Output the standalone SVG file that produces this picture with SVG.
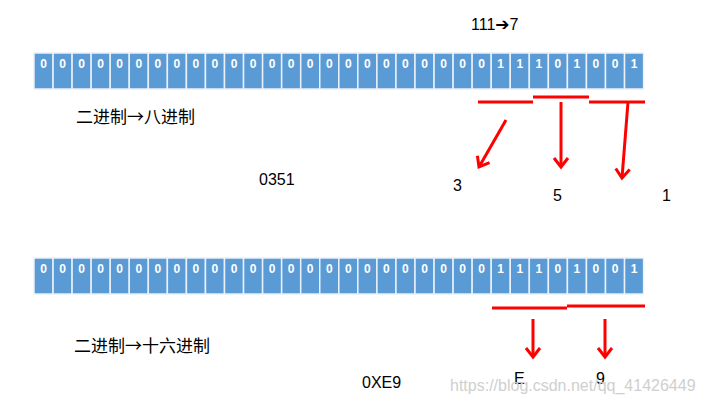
<svg xmlns="http://www.w3.org/2000/svg" width="703" height="406" viewBox="0 0 703 406">
<defs>
<style>
.cell rect{fill:#5B9BD5;stroke:#EAF1FA;stroke-width:1.5}
.cell text{fill:#fff;font-family:"Liberation Sans",Arial,sans-serif;font-size:12px;font-weight:bold;text-anchor:middle}
.lbl{font-family:"Liberation Sans","DejaVu Sans",Arial,sans-serif;font-size:16px;fill:#000}
.cjk{font-family:"Noto Sans CJK SC","Liberation Sans",sans-serif;font-size:17px;fill:#000}
.red{stroke:#FF0000;stroke-width:3;fill:none}
.arr{stroke:#FF0000;stroke-width:3;fill:none;marker-end:url(#ah)}
.wm{font-family:"Liberation Sans",Arial,sans-serif;font-size:16px;fill:#cfcfcf}
</style>
<marker id="ah" markerUnits="userSpaceOnUse" orient="auto" markerWidth="20" markerHeight="20" refX="0" refY="0" viewBox="-12 -10 14 20" overflow="visible">
<path d="M-9,-7 L0,0 L-9,7" stroke="#FF0000" stroke-width="3" fill="none" stroke-linejoin="miter"/>
</marker>
</defs>
<rect width="703" height="406" fill="#fff"/>

<g id="row-octal" class="cell">
<g transform="translate(34,53)"><rect width="19.05" height="36"/><text x="9.5" y="15">0</text></g>
<g transform="translate(53.05,53)"><rect width="19.05" height="36"/><text x="9.5" y="15">0</text></g>
<g transform="translate(72.1,53)"><rect width="19.05" height="36"/><text x="9.5" y="15">0</text></g>
<g transform="translate(91.15,53)"><rect width="19.05" height="36"/><text x="9.5" y="15">0</text></g>
<g transform="translate(110.2,53)"><rect width="19.05" height="36"/><text x="9.5" y="15">0</text></g>
<g transform="translate(129.25,53)"><rect width="19.05" height="36"/><text x="9.5" y="15">0</text></g>
<g transform="translate(148.3,53)"><rect width="19.05" height="36"/><text x="9.5" y="15">0</text></g>
<g transform="translate(167.35,53)"><rect width="19.05" height="36"/><text x="9.5" y="15">0</text></g>
<g transform="translate(186.4,53)"><rect width="19.05" height="36"/><text x="9.5" y="15">0</text></g>
<g transform="translate(205.45,53)"><rect width="19.05" height="36"/><text x="9.5" y="15">0</text></g>
<g transform="translate(224.5,53)"><rect width="19.05" height="36"/><text x="9.5" y="15">0</text></g>
<g transform="translate(243.55,53)"><rect width="19.05" height="36"/><text x="9.5" y="15">0</text></g>
<g transform="translate(262.6,53)"><rect width="19.05" height="36"/><text x="9.5" y="15">0</text></g>
<g transform="translate(281.65,53)"><rect width="19.05" height="36"/><text x="9.5" y="15">0</text></g>
<g transform="translate(300.7,53)"><rect width="19.05" height="36"/><text x="9.5" y="15">0</text></g>
<g transform="translate(319.75,53)"><rect width="19.05" height="36"/><text x="9.5" y="15">0</text></g>
<g transform="translate(338.8,53)"><rect width="19.05" height="36"/><text x="9.5" y="15">0</text></g>
<g transform="translate(357.85,53)"><rect width="19.05" height="36"/><text x="9.5" y="15">0</text></g>
<g transform="translate(376.9,53)"><rect width="19.05" height="36"/><text x="9.5" y="15">0</text></g>
<g transform="translate(395.95,53)"><rect width="19.05" height="36"/><text x="9.5" y="15">0</text></g>
<g transform="translate(415,53)"><rect width="19.05" height="36"/><text x="9.5" y="15">0</text></g>
<g transform="translate(434.05,53)"><rect width="19.05" height="36"/><text x="9.5" y="15">0</text></g>
<g transform="translate(453.1,53)"><rect width="19.05" height="36"/><text x="9.5" y="15">0</text></g>
<g transform="translate(472.15,53)"><rect width="19.05" height="36"/><text x="9.5" y="15">0</text></g>
<g transform="translate(491.2,53)"><rect width="19.05" height="36"/><text x="9.5" y="15">1</text></g>
<g transform="translate(510.25,53)"><rect width="19.05" height="36"/><text x="9.5" y="15">1</text></g>
<g transform="translate(529.3,53)"><rect width="19.05" height="36"/><text x="9.5" y="15">1</text></g>
<g transform="translate(548.35,53)"><rect width="19.05" height="36"/><text x="9.5" y="15">0</text></g>
<g transform="translate(567.4,53)"><rect width="19.05" height="36"/><text x="9.5" y="15">1</text></g>
<g transform="translate(586.45,53)"><rect width="19.05" height="36"/><text x="9.5" y="15">0</text></g>
<g transform="translate(605.5,53)"><rect width="19.05" height="36"/><text x="9.5" y="15">0</text></g>
<g transform="translate(624.55,53)"><rect width="19.05" height="36"/><text x="9.5" y="15">1</text></g>
</g>

<g id="row-hex" class="cell">
<g transform="translate(34,258)"><rect width="19.05" height="36"/><text x="9.5" y="15">0</text></g>
<g transform="translate(53.05,258)"><rect width="19.05" height="36"/><text x="9.5" y="15">0</text></g>
<g transform="translate(72.1,258)"><rect width="19.05" height="36"/><text x="9.5" y="15">0</text></g>
<g transform="translate(91.15,258)"><rect width="19.05" height="36"/><text x="9.5" y="15">0</text></g>
<g transform="translate(110.2,258)"><rect width="19.05" height="36"/><text x="9.5" y="15">0</text></g>
<g transform="translate(129.25,258)"><rect width="19.05" height="36"/><text x="9.5" y="15">0</text></g>
<g transform="translate(148.3,258)"><rect width="19.05" height="36"/><text x="9.5" y="15">0</text></g>
<g transform="translate(167.35,258)"><rect width="19.05" height="36"/><text x="9.5" y="15">0</text></g>
<g transform="translate(186.4,258)"><rect width="19.05" height="36"/><text x="9.5" y="15">0</text></g>
<g transform="translate(205.45,258)"><rect width="19.05" height="36"/><text x="9.5" y="15">0</text></g>
<g transform="translate(224.5,258)"><rect width="19.05" height="36"/><text x="9.5" y="15">0</text></g>
<g transform="translate(243.55,258)"><rect width="19.05" height="36"/><text x="9.5" y="15">0</text></g>
<g transform="translate(262.6,258)"><rect width="19.05" height="36"/><text x="9.5" y="15">0</text></g>
<g transform="translate(281.65,258)"><rect width="19.05" height="36"/><text x="9.5" y="15">0</text></g>
<g transform="translate(300.7,258)"><rect width="19.05" height="36"/><text x="9.5" y="15">0</text></g>
<g transform="translate(319.75,258)"><rect width="19.05" height="36"/><text x="9.5" y="15">0</text></g>
<g transform="translate(338.8,258)"><rect width="19.05" height="36"/><text x="9.5" y="15">0</text></g>
<g transform="translate(357.85,258)"><rect width="19.05" height="36"/><text x="9.5" y="15">0</text></g>
<g transform="translate(376.9,258)"><rect width="19.05" height="36"/><text x="9.5" y="15">0</text></g>
<g transform="translate(395.95,258)"><rect width="19.05" height="36"/><text x="9.5" y="15">0</text></g>
<g transform="translate(415,258)"><rect width="19.05" height="36"/><text x="9.5" y="15">0</text></g>
<g transform="translate(434.05,258)"><rect width="19.05" height="36"/><text x="9.5" y="15">0</text></g>
<g transform="translate(453.1,258)"><rect width="19.05" height="36"/><text x="9.5" y="15">0</text></g>
<g transform="translate(472.15,258)"><rect width="19.05" height="36"/><text x="9.5" y="15">0</text></g>
<g transform="translate(491.2,258)"><rect width="19.05" height="36"/><text x="9.5" y="15">1</text></g>
<g transform="translate(510.25,258)"><rect width="19.05" height="36"/><text x="9.5" y="15">1</text></g>
<g transform="translate(529.3,258)"><rect width="19.05" height="36"/><text x="9.5" y="15">1</text></g>
<g transform="translate(548.35,258)"><rect width="19.05" height="36"/><text x="9.5" y="15">0</text></g>
<g transform="translate(567.4,258)"><rect width="19.05" height="36"/><text x="9.5" y="15">1</text></g>
<g transform="translate(586.45,258)"><rect width="19.05" height="36"/><text x="9.5" y="15">0</text></g>
<g transform="translate(605.5,258)"><rect width="19.05" height="36"/><text x="9.5" y="15">0</text></g>
<g transform="translate(624.55,258)"><rect width="19.05" height="36"/><text x="9.5" y="15">1</text></g>
</g>

<g id="connectors">
<line class="red" x1="478" y1="102" x2="533" y2="102"/>
<line class="red" x1="533" y1="97" x2="589" y2="97"/>
<line class="red" x1="589" y1="102" x2="645" y2="102"/>
<line class="arr" x1="506" y1="120" x2="479" y2="167"/>
<line class="arr" x1="561" y1="102" x2="561" y2="167"/>
<line class="arr" x1="628" y1="102" x2="622" y2="178"/>
<line class="red" x1="492" y1="308" x2="567" y2="308"/>
<line class="red" x1="567" y1="306" x2="645" y2="306"/>
<line class="arr" x1="533" y1="319" x2="533" y2="357"/>
<line class="arr" x1="605" y1="319" x2="605" y2="357"/>
</g>

<g id="labels">
<text class="lbl" x="471" y="30">111<tspan style="font-family:'DejaVu Sans',sans-serif;font-weight:bold;font-size:17px">➔</tspan>7</text>
<text class="cjk" x="76" y="123">二进制→八进制</text>
<text class="lbl" x="259" y="185">0351</text>
<text class="lbl" x="453" y="191">3</text>
<text class="lbl" x="553" y="201">5</text>
<text class="lbl" x="662" y="201">1</text>
<text class="cjk" x="74" y="352">二进制→十六进制</text>
<text class="lbl" x="362" y="388">0XE9</text>
<text class="lbl" x="514" y="384">E</text>
<text class="lbl" x="596" y="384">9</text>
<text class="wm" x="450" y="391">https://blog.csdn.net/qq_41426449</text>
</g>
</svg>
